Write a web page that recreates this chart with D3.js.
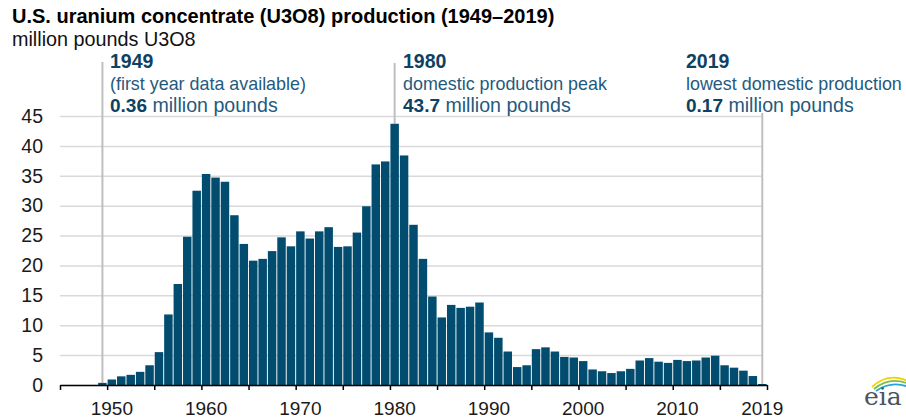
<!DOCTYPE html>
<html>
<head>
<meta charset="utf-8">
<script src="https://cdn.jsdelivr.net/npm/d3@7"></script>
<style>
  body { margin: 0; background: #fff; }
  svg { font-family: "Liberation Sans", Arial, sans-serif; display: block; }
</style>
</head>
<body>
<div id="chart"></div>
<script>
// categories on the axis (1945-1948 are empty slots before the data starts)
const axisYears = d3.range(1945, 2020);
const years = d3.range(1949, 2020);
// million pounds U3O8, 1949-2019
const production = [
  0.36, 0.92, 1.45, 1.7, 2.2, 3.3, 5.5, 11.8, 16.9, 24.8, 32.5,
  35.3, 34.7, 34.0, 28.4, 23.6, 20.8, 21.1, 22.4, 24.7, 23.2,
  25.7, 24.5, 25.7, 26.4, 23.1, 23.2, 25.5, 29.9, 36.9, 37.4,
  43.7, 38.4, 26.8, 21.1, 14.8, 11.3, 13.4, 12.9, 13.1, 13.8,
  8.8, 7.9, 5.6, 3.0, 3.3, 6.0, 6.3, 5.6, 4.7, 4.6,
  4.0, 2.6, 2.3, 2.0, 2.3, 2.7, 4.1, 4.5, 3.9, 3.7,
  4.2, 4.0, 4.1, 4.6, 4.9, 3.3, 2.9, 2.4, 1.5, 0.17
];
const yTicks = [0, 5, 10, 15, 20, 25, 30, 35, 40, 45];
const xLabelYears = [1950, 1960, 1970, 1980, 1990, 2000, 2010, 2019];
const xTickYears = [1945, 1950, 1955, 1960, 1965, 1970, 1975, 1980, 1985, 1990, 1995, 2000, 2005, 2010, 2015, 2020];

// call-outs
const noteYears = [1949, 1980, 2019];
const noteHeads = ["1949", "1980", "2019"];
const noteLines = ["(first year data available)", "domestic production peak", "lowest domestic production"];
const noteValues = ["0.36", "43.7", "0.17"];

const width = 906, height = 420;
const margin = { left: 60, right: 767, bottom: 385, top: 116 };

const data = years.map((yr, i) => ({ year: yr, value: production[i] }));

const svg = d3.select("#chart").append("svg")
  .attr("width", width)
  .attr("height", height);

const x = d3.scaleBand()
  .domain(axisYears)
  .range([margin.left, margin.right])
  .paddingInner(0.1)
  .paddingOuter(0.05);

const xEdge = d3.scaleLinear()
  .domain([1945, 2020])
  .range([margin.left, margin.right]);

const y = d3.scaleLinear()
  .domain([0, 45])
  .range([margin.bottom, margin.top]);

// gridlines + y labels
const yAxis = svg.append("g")
  .attr("transform", `translate(${margin.left},0)`)
  .call(d3.axisLeft(y).tickValues(yTicks).tickSize(-(763 - margin.left)).tickPadding(17));
yAxis.select(".domain").remove();
yAxis.selectAll(".tick line").attr("stroke", "#d9d9d9").attr("stroke-width", 1.5);
yAxis.selectAll(".tick text")
  .attr("font-size", 19.5)
  .attr("fill", "#1a1a1a")
  .attr("font-family", "Liberation Sans, Arial, sans-serif");

// annotation leader lines
const lineTops = [62, 63, 113];
svg.append("g")
  .selectAll("line")
  .data(noteYears)
  .join("line")
  .attr("x1", d => x(d) + x.bandwidth() / 2)
  .attr("x2", d => x(d) + x.bandwidth() / 2)
  .attr("y1", (d, i) => lineTops[i])
  .attr("y2", d => y(production[years.indexOf(d)]))
  .attr("stroke", "#bfbfbf")
  .attr("stroke-width", 2);

// bars
svg.append("g")
  .selectAll("rect")
  .data(data)
  .join("rect")
  .attr("x", d => x(d.year))
  .attr("y", d => y(d.value))
  .attr("width", x.bandwidth())
  .attr("height", d => margin.bottom - y(d.value))
  .attr("fill", "#024d6f");

// x axis
const xAxis = svg.append("g")
  .attr("transform", `translate(0,${margin.bottom})`)
  .call(d3.axisBottom(xEdge).tickValues(xTickYears).tickFormat("").tickSize(5).tickSizeOuter(0));
xAxis.select(".domain").attr("stroke", "#000").attr("stroke-width", 1.5);
xAxis.selectAll(".tick line").attr("stroke", "#000").attr("stroke-width", 1.5);

svg.append("g")
  .selectAll("text")
  .data(xLabelYears)
  .join("text")
  .attr("x", d => x(d) + x.bandwidth() / 2)
  .attr("y", 415)
  .attr("text-anchor", "middle")
  .attr("font-size", 19)
  .attr("fill", "#1a1a1a")
  .text(d => d);

// title
svg.append("text")
  .attr("x", 12).attr("y", 23)
  .attr("font-size", 20).attr("font-weight", "bold").attr("fill", "#000")
  .text("U.S. uranium concentrate (U3O8) production (1949\u20132019)");
svg.append("text")
  .attr("x", 12).attr("y", 46)
  .attr("font-size", 19.8).attr("fill", "#111")
  .text("million pounds U3O8");

// call-out text
const noteX = [110, 403, 686];
const notes = svg.append("g").selectAll("g")
  .data(noteYears)
  .join("g")
  .attr("transform", (d, i) => `translate(${noteX[i]},0)`);
notes.append("text")
  .attr("y", 68)
  .attr("font-size", 19.5).attr("font-weight", "bold").attr("fill", "#0f4162")
  .text((d, i) => noteHeads[i]);
notes.append("text")
  .attr("y", 90)
  .attr("font-size", 17.9).attr("fill", "#245a7e")
  .text((d, i) => noteLines[i]);
const valText = notes.append("text")
  .attr("y", 111.5)
  .attr("font-size", 19.6).attr("fill", "#245a7e");
valText.append("tspan")
  .attr("font-weight", "bold").attr("fill", "#0f4162").attr("font-size", 19)
  .text((d, i) => noteValues[i]);
valText.append("tspan")
  .text(" million pounds");

// eia logo
const logo = svg.append("g").attr("transform", "translate(864,378)");
logo.append("path").attr("d", "M8,9 Q24,-6 44,3").attr("fill", "none").attr("stroke", "#f2d100").attr("stroke-width", 1.8);
logo.append("path").attr("d", "M10,11 Q26,-2 45,6").attr("fill", "none").attr("stroke", "#7ac143").attr("stroke-width", 1.8);
logo.append("path").attr("d", "M12,13 Q28,2 46,9.5").attr("fill", "none").attr("stroke", "#2aa3d8").attr("stroke-width", 1.8);
logo.append("text")
  .attr("x", 0).attr("y", 27)
  .attr("font-family", "DejaVu Serif, serif")
  .attr("font-size", 25)
  .attr("fill", "#4a5560")
  .text("eia");
</script>
</body>
</html>
